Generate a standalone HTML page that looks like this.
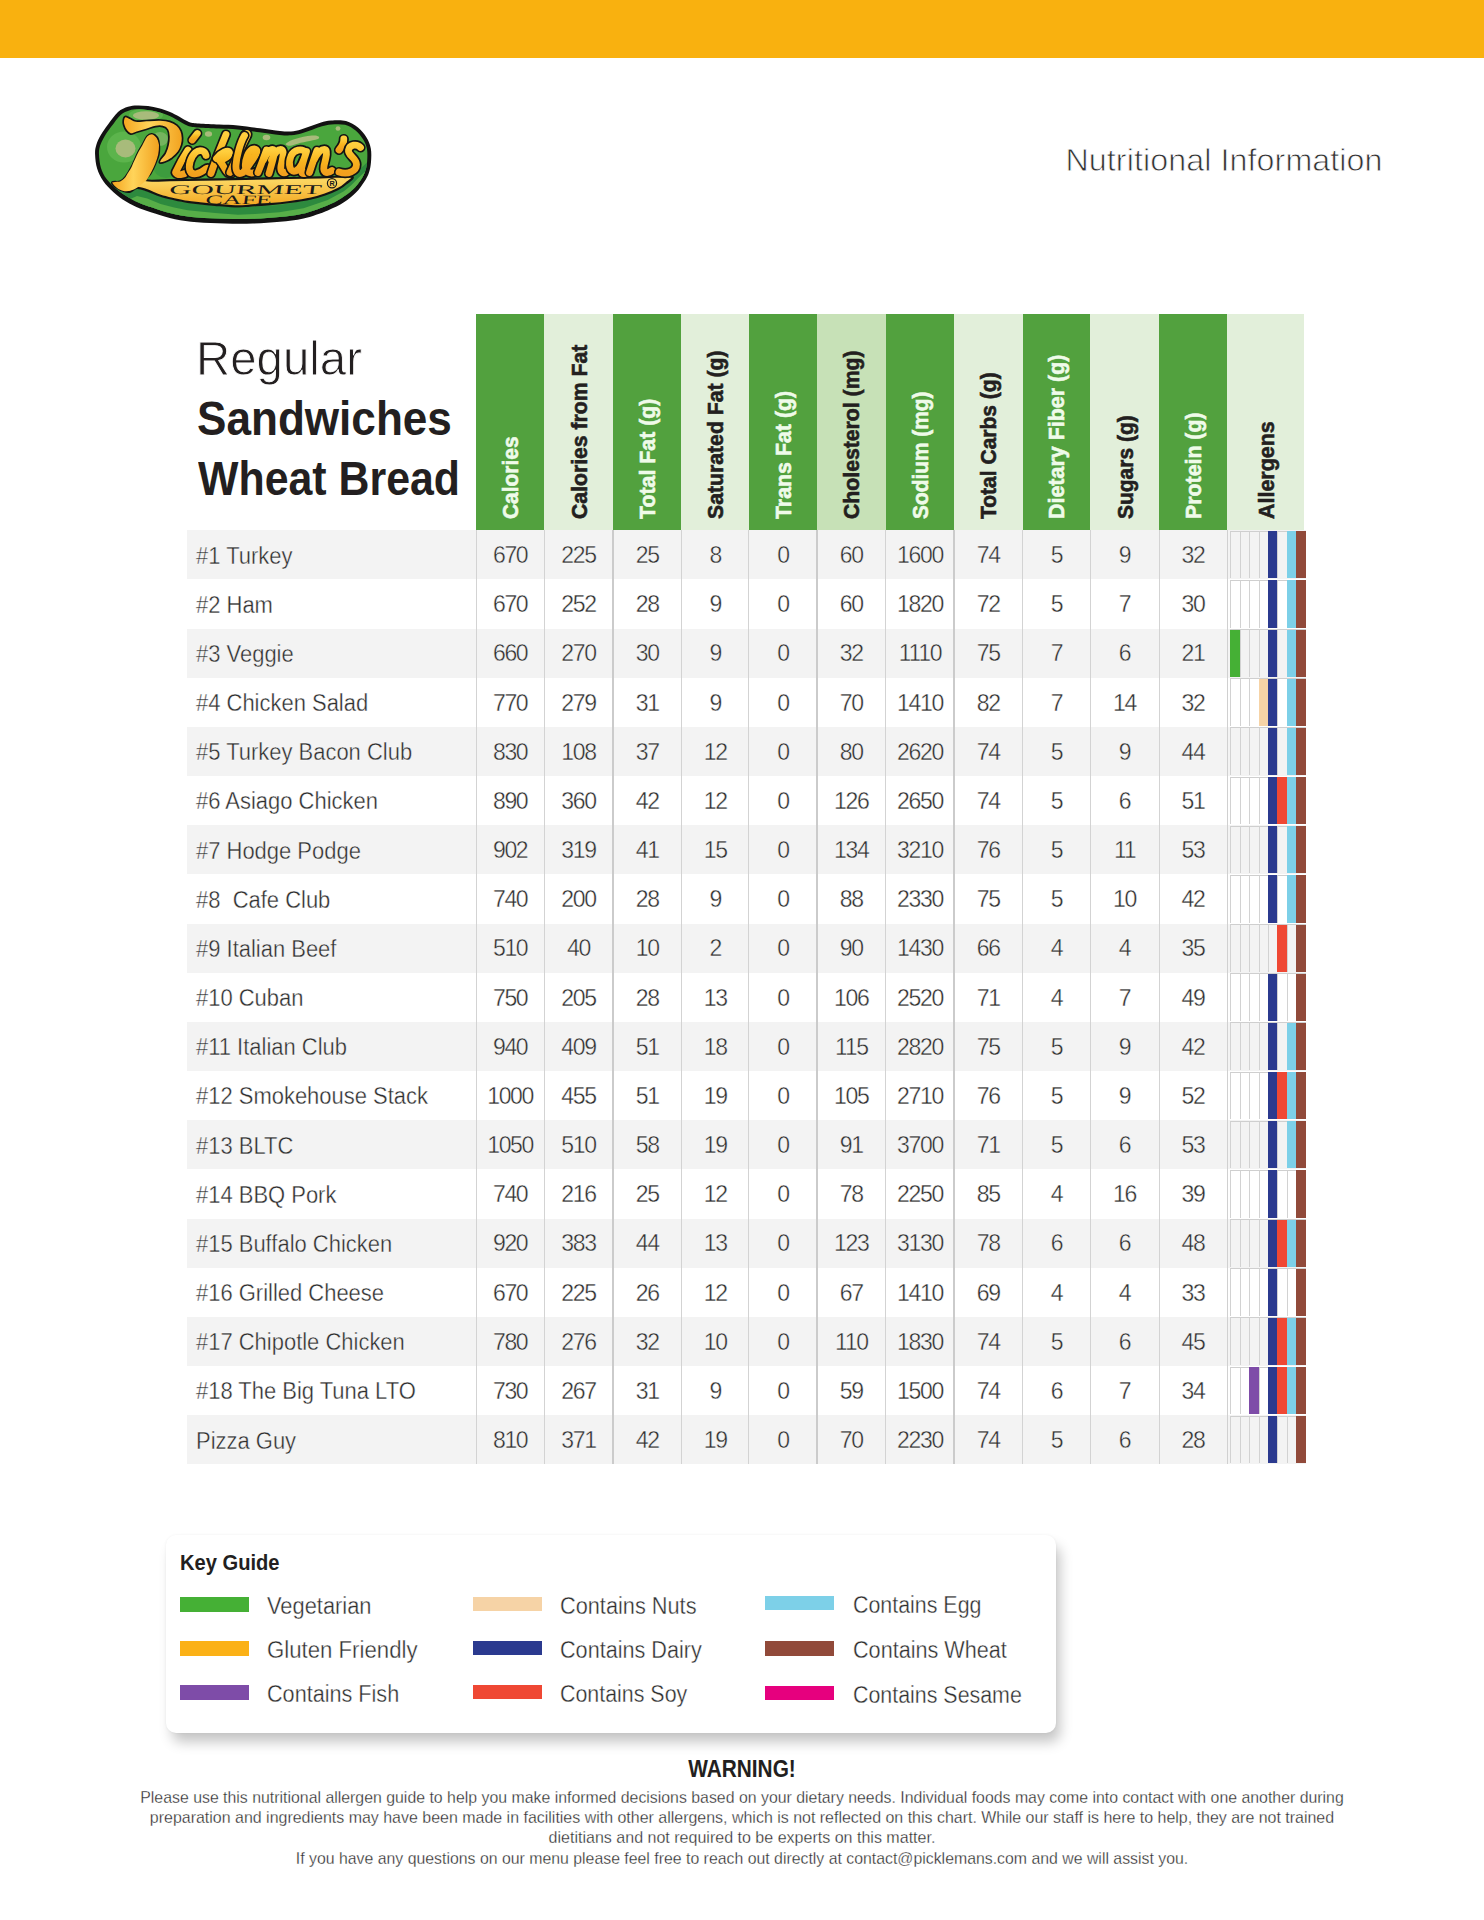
<!DOCTYPE html>
<html><head><meta charset="utf-8"><title>Pickleman's Nutritional Information</title>
<style>
*{box-sizing:border-box;margin:0;padding:0}
html,body{width:1484px;height:1920px;background:#fff;overflow:hidden}
body{position:relative;font-family:"Liberation Sans",sans-serif;color:#333}
.abs{position:absolute}
.topbar{position:absolute;left:0;top:0;width:1484px;height:58px;background:#f9b10f}
.ni{position:absolute;right:101.4px;top:137.9px;font-size:32.2px;color:#333;-webkit-text-stroke:0.8px #fff;letter-spacing:0.1px;white-space:nowrap;line-height:44px}
.title{position:absolute;left:197px;white-space:nowrap;color:#231f20;transform-origin:0 50%}
.hc{position:absolute;top:313.5px;height:216.5px}
.ht{position:absolute;white-space:nowrap;font-weight:700;font-size:22.6px;line-height:24px;transform-origin:0 0}
.row{position:absolute;left:187px;width:1119px}
.nm{position:absolute;left:196.3px;white-space:nowrap;font-size:23px;color:#2e2e2e;-webkit-text-stroke:0.35px #fff;transform:scaleX(0.955);transform-origin:0 50%}
.num{position:absolute;text-align:center;font-size:23px;letter-spacing:-1.3px;color:#2e2e2e;-webkit-text-stroke:0.35px #fff;white-space:nowrap}
.vl{position:absolute;width:1px;background:#d0d0d0}
.al{position:absolute}
.key{position:absolute;left:166px;top:1535px;width:889.5px;height:198px;background:#fff;border-radius:10px;box-shadow:5px 10px 13px -1px rgba(0,0,0,0.23),0 0 3px rgba(0,0,0,0.05)}
.sw{position:absolute;width:69px;height:14.5px}
.kl{position:absolute;font-size:23px;color:#2e2e2e;-webkit-text-stroke:0.35px #fff;white-space:nowrap;transform-origin:0 50%;line-height:26px}
.warn{position:absolute;left:0;width:1484px;text-align:center;color:#231f20;white-space:nowrap}
</style></head><body>
<div class="topbar"></div>
<svg class="abs" style="left:0;top:0" width="400" height="240" viewBox="0 0 400 240">
<defs>
<linearGradient id="gy" x1="0" y1="0" x2="0" y2="1"><stop offset="0" stop-color="#ffcf3e"/><stop offset="0.5" stop-color="#f8b41e"/><stop offset="1" stop-color="#f2a01e"/></linearGradient>
<linearGradient id="gb" x1="0" y1="0" x2="0" y2="1"><stop offset="0" stop-color="#f3a21d"/><stop offset="0.3" stop-color="#f9c53e"/><stop offset="0.65" stop-color="#fbd560"/><stop offset="1" stop-color="#f2a61f"/></linearGradient>
<linearGradient id="gs" x1="0" y1="0" x2="1" y2="0"><stop offset="0" stop-color="#f6a51f"/><stop offset="0.45" stop-color="#ffd45a"/><stop offset="1" stop-color="#f2a21f"/></linearGradient>
<clipPath id="cin"><path d="M99.0,154.5 C98.8,150.9 99.2,149.0 100.0,146.1 C100.9,143.2 102.3,140.1 104.2,136.9 C106.0,133.7 108.4,130.5 111.1,126.8 C113.9,123.2 117.6,117.6 120.6,114.9 C123.6,112.2 126.5,111.4 129.3,110.5 C132.0,109.5 134.1,109.4 137.2,109.3 C140.2,109.2 144.0,109.4 147.5,109.9 C151.0,110.3 154.5,111.1 158.0,112.1 C161.5,113.0 165.3,114.3 168.5,115.6 C171.7,116.9 174.0,118.3 177.2,120.0 C180.4,121.6 184.1,124.4 187.7,125.7 C191.3,126.9 193.5,127.0 198.7,127.5 C203.8,128.0 212.3,128.2 218.8,128.5 C225.3,128.8 230.9,128.8 237.6,129.4 C244.4,130.0 252.5,131.3 259.5,132.2 C266.5,133.1 274.3,134.4 279.6,134.9 C284.9,135.4 287.5,135.6 291.3,135.3 C295.0,135.0 298.5,134.2 302.0,133.3 C305.5,132.3 309.0,130.8 312.3,129.7 C315.6,128.5 318.9,127.1 322.0,126.3 C325.2,125.4 327.4,124.7 331.2,124.5 C335.1,124.2 341.0,123.8 345.0,124.8 C349.1,125.8 352.5,128.1 355.6,130.5 C358.6,133.0 361.3,136.4 363.2,139.5 C365.1,142.6 366.3,145.5 367.0,149.2 C367.6,152.9 367.4,158.1 367.1,161.7 C366.8,165.4 366.4,168.1 365.3,171.1 C364.3,174.2 362.9,176.9 360.8,180.0 C358.8,183.0 356.1,186.4 352.9,189.5 C349.6,192.5 345.8,195.5 341.3,198.2 C336.9,201.0 332.5,203.3 326.0,205.9 C319.5,208.5 310.1,212.0 302.4,213.8 C294.6,215.7 287.8,216.2 279.5,217.0 C271.3,217.9 261.9,218.5 252.8,218.8 C243.8,219.1 234.3,219.0 225.1,218.8 C215.9,218.6 205.6,218.2 197.4,217.5 C189.2,216.8 182.8,215.9 176.0,214.5 C169.1,213.1 162.1,210.6 156.4,208.9 C150.7,207.2 146.5,206.0 141.8,204.1 C137.2,202.1 132.7,199.9 128.5,197.4 C124.3,194.9 120.1,192.0 116.4,188.9 C112.8,185.8 109.0,182.3 106.4,178.8 C103.8,175.2 102.2,171.7 100.9,167.7 C99.7,163.6 99.1,158.0 99.0,154.5Z"/></clipPath>
</defs>
<path d="M95.1,154.6 C94.9,150.6 95.3,148.3 96.3,145.0 C97.2,141.7 98.8,138.4 100.8,135.0 C102.8,131.6 105.1,128.3 108.0,124.5 C110.9,120.7 114.7,115.0 118.0,112.0 C121.3,109.0 124.8,107.9 128.0,106.8 C131.2,105.7 133.7,105.5 137.0,105.4 C140.3,105.3 144.3,105.5 148.0,106.0 C151.7,106.5 155.3,107.3 159.0,108.3 C162.7,109.3 166.7,110.6 170.0,112.0 C173.3,113.4 175.8,114.8 179.0,116.5 C182.2,118.2 185.7,120.8 189.0,122.0 C192.3,123.2 194.0,123.2 199.0,123.6 C204.0,124.0 212.5,124.3 219.0,124.6 C225.5,124.9 231.2,124.9 238.0,125.5 C244.8,126.1 253.0,127.4 260.0,128.3 C267.0,129.2 274.8,130.5 280.0,131.0 C285.2,131.5 287.5,131.7 291.0,131.4 C294.5,131.2 297.7,130.4 301.0,129.5 C304.3,128.6 307.7,127.2 311.0,126.0 C314.3,124.8 317.7,123.4 321.0,122.5 C324.3,121.6 326.8,120.8 331.0,120.6 C335.2,120.3 341.5,119.8 346.0,121.0 C350.5,122.2 354.6,124.8 358.0,127.5 C361.4,130.2 364.4,134.0 366.5,137.5 C368.6,141.0 370.1,144.4 370.8,148.5 C371.6,152.6 371.3,158.0 371.0,162.0 C370.7,166.0 370.1,169.1 369.0,172.4 C367.9,175.8 366.3,178.7 364.1,182.1 C361.9,185.5 359.4,189.2 356.0,192.6 C352.6,196.0 348.6,199.3 343.9,202.3 C339.2,205.3 334.5,207.7 327.8,210.4 C321.1,213.1 311.5,216.6 303.5,218.5 C295.5,220.4 288.4,221.0 280.0,221.8 C271.6,222.7 262.2,223.3 253.0,223.6 C243.8,223.9 234.3,223.8 225.0,223.6 C215.7,223.4 205.3,223.0 197.0,222.3 C188.7,221.6 182.0,220.7 175.0,219.2 C168.0,217.7 160.8,215.3 155.0,213.5 C149.2,211.7 144.8,210.5 140.0,208.5 C135.2,206.5 130.4,204.2 126.0,201.5 C121.6,198.8 117.3,195.6 113.5,192.2 C109.7,188.8 105.9,184.9 103.2,181.0 C100.5,177.1 98.6,173.2 97.2,168.8 C95.8,164.4 95.2,158.6 95.1,154.6Z" fill="#121212"/>
<path d="M99.0,154.5 C98.8,150.9 99.2,149.0 100.0,146.1 C100.9,143.2 102.3,140.1 104.2,136.9 C106.0,133.7 108.4,130.5 111.1,126.8 C113.9,123.2 117.6,117.6 120.6,114.9 C123.6,112.2 126.5,111.4 129.3,110.5 C132.0,109.5 134.1,109.4 137.2,109.3 C140.2,109.2 144.0,109.4 147.5,109.9 C151.0,110.3 154.5,111.1 158.0,112.1 C161.5,113.0 165.3,114.3 168.5,115.6 C171.7,116.9 174.0,118.3 177.2,120.0 C180.4,121.6 184.1,124.4 187.7,125.7 C191.3,126.9 193.5,127.0 198.7,127.5 C203.8,128.0 212.3,128.2 218.8,128.5 C225.3,128.8 230.9,128.8 237.6,129.4 C244.4,130.0 252.5,131.3 259.5,132.2 C266.5,133.1 274.3,134.4 279.6,134.9 C284.9,135.4 287.5,135.6 291.3,135.3 C295.0,135.0 298.5,134.2 302.0,133.3 C305.5,132.3 309.0,130.8 312.3,129.7 C315.6,128.5 318.9,127.1 322.0,126.3 C325.2,125.4 327.4,124.7 331.2,124.5 C335.1,124.2 341.0,123.8 345.0,124.8 C349.1,125.8 352.5,128.1 355.6,130.5 C358.6,133.0 361.3,136.4 363.2,139.5 C365.1,142.6 366.3,145.5 367.0,149.2 C367.6,152.9 367.4,158.1 367.1,161.7 C366.8,165.4 366.4,168.1 365.3,171.1 C364.3,174.2 362.9,176.9 360.8,180.0 C358.8,183.0 356.1,186.4 352.9,189.5 C349.6,192.5 345.8,195.5 341.3,198.2 C336.9,201.0 332.5,203.3 326.0,205.9 C319.5,208.5 310.1,212.0 302.4,213.8 C294.6,215.7 287.8,216.2 279.5,217.0 C271.3,217.9 261.9,218.5 252.8,218.8 C243.8,219.1 234.3,219.0 225.1,218.8 C215.9,218.6 205.6,218.2 197.4,217.5 C189.2,216.8 182.8,215.9 176.0,214.5 C169.1,213.1 162.1,210.6 156.4,208.9 C150.7,207.2 146.5,206.0 141.8,204.1 C137.2,202.1 132.7,199.9 128.5,197.4 C124.3,194.9 120.1,192.0 116.4,188.9 C112.8,185.8 109.0,182.3 106.4,178.8 C103.8,175.2 102.2,171.7 100.9,167.7 C99.7,163.6 99.1,158.0 99.0,154.5Z" fill="#4aa63d"/>
<g clip-path="url(#cin)">
<path d="M92,168 C100,170 104,176 104,180.5 L112.0,184.4 118.0,188.5 123.6,191.0 130.3,191.6 137.0,188.6 147.2,191.2 160.6,196.6 174.1,200.2 187.6,202.9 200.0,204.3 215.0,205.8 238.0,207.4 255.0,206.6 279.3,205.0 303.5,200.9 327.8,192.8 343.9,183.9 351.5,177.6 358.0,171.0 L380,150 L380,240 L90,240 Z" fill="#2d8a3e"/>
<path d="M92,176 L104.0,187.8 112.0,191.7 118.0,195.8 123.6,198.3 130.3,198.9 137.0,195.9 147.2,198.5 160.6,203.9 174.1,207.5 187.6,210.2 200.0,211.6 215.0,213.1 238.0,214.7 255.0,213.9 279.3,212.3 303.5,208.2 327.8,200.1 343.9,191.2 351.5,184.9 358.0,178.3 L380,158 L380,240 L90,240 Z" fill="#57ae48"/>
<ellipse cx="166" cy="168" rx="12" ry="10" fill="#3d9c3e"/>
<ellipse cx="124" cy="147" rx="17" ry="15.5" fill="#5cb44c"/>
<ellipse cx="125.5" cy="148.5" rx="10" ry="9" fill="#a8bb7b"/>
<ellipse cx="146" cy="115" rx="17" ry="6.5" fill="#5cb44c"/>
<ellipse cx="146" cy="115.5" rx="13" ry="4.2" fill="#a8bb7b"/>
<ellipse cx="160" cy="139" rx="8" ry="7" fill="#7fb866" opacity="0.8"/>
</g>
<ellipse cx="208.5" cy="134" rx="3.6" ry="2.8" fill="#a8bb7b"/>
<ellipse cx="266.5" cy="137.5" rx="3.8" ry="2.8" fill="#a8bb7b"/>
<path d="M285.5,144 C290,139.5 300,137 312,135.5 C318,135 321,137 318,139 C312,141 302,142 295,144.5 C291,146 287,146.5 285.5,144 Z" fill="#a8bb7b"/>
<ellipse cx="338" cy="128.5" rx="2.4" ry="2.2" fill="#a8bb7b"/>
<path d="M152.0,134.2 C153.7,134.4 156.0,135.7 157.2,137.5 C158.4,139.3 158.8,142.2 159.0,145.0 C159.2,147.8 159.2,151.4 158.6,154.5 C158.0,157.6 156.7,160.3 155.3,163.5 C154.0,166.7 152.0,170.8 150.5,173.6 C149.0,176.4 143.2,179.2 146.5,180.3 C149.8,181.4 157.8,180.3 170.0,180.2 C182.2,180.0 203.3,179.7 220.0,179.4 C236.7,179.1 253.3,178.6 270.0,178.3 C286.7,178.0 306.4,177.7 320.0,177.4 C333.6,177.1 347.2,175.6 351.5,176.6 C355.8,177.6 348.2,181.4 346.0,183.5 C343.8,185.6 341.5,187.2 338.0,189.0 C334.5,190.8 329.5,192.9 325.0,194.5 C320.5,196.1 316.8,197.2 311.0,198.5 C305.2,199.8 296.8,201.1 290.0,202.0 C283.2,202.9 276.7,203.6 270.0,204.2 C263.3,204.8 255.3,205.2 250.0,205.6 C244.7,206.0 243.8,206.5 238.0,206.4 C232.2,206.3 221.3,205.3 215.0,204.8 C208.7,204.3 204.6,203.8 200.0,203.3 C195.4,202.8 191.9,202.6 187.6,201.9 C183.3,201.2 178.6,200.2 174.1,199.2 C169.6,198.2 165.1,197.3 160.6,195.8 C156.1,194.3 151.1,191.7 147.2,190.4 C143.3,189.1 139.8,187.6 137.0,187.8 C134.2,188.0 132.5,191.1 130.3,191.6 C128.1,192.1 125.8,191.7 123.6,191.0 C121.3,190.3 118.7,189.1 116.8,187.7 C114.9,186.3 111.5,183.4 112.1,182.4 C112.7,181.4 118.0,182.5 120.2,181.6 C122.5,180.7 123.7,179.5 125.6,177.0 C127.5,174.5 129.7,170.7 131.7,166.8 C133.7,162.9 135.9,157.0 137.7,153.4 C139.5,149.8 140.9,147.8 142.5,145.0 C144.1,142.2 145.6,138.3 147.2,136.5 C148.8,134.7 150.3,134.0 152.0,134.2Z" fill="url(#gb)" stroke="#141414" stroke-width="2.2" stroke-linejoin="round"/>
<path d="M152,134.2 C155,135.5 158,138 159,145 C159,152 158,157 155.3,163.5 C153,169 150,175 146.5,180.3 C142,184 139,186.5 137,187.8 C133,190.5 127,192 123.6,191 C119,190 114,186 112.1,182.4 C116,182 119,181.8 120.2,181.6 C123,179.5 125,178 125.6,177 C128,173 130,170 131.7,166.8 C134,161 136,157 137.7,153.4 C139.5,150 141,148 142.5,145 C144,142 145.5,138.5 147.2,136.5 C149,135 150.5,134.3 152,134.2 Z" fill="url(#gs)"/>
<path d="M125.1,116.5 C126.2,116.1 128.0,117.3 129.8,118.1 C131.6,118.8 133.2,120.6 135.9,121.0 C138.7,121.4 142.2,120.7 146.3,120.5 C150.4,120.3 156.6,119.8 160.5,120.0 C164.4,120.2 167.2,120.5 169.9,121.4 C172.7,122.3 175.1,123.6 177.0,125.2 C178.9,126.8 180.3,128.8 181.2,130.9 C182.1,133.0 182.5,135.7 182.6,138.0 C182.7,140.3 182.4,142.7 181.7,145.0 C181.0,147.3 180.0,149.9 178.4,152.1 C176.8,154.3 174.4,156.5 172.2,158.2 C170.0,159.8 167.3,161.2 165.2,162.0 C163.1,162.8 160.3,163.4 159.5,162.9 C158.7,162.4 159.6,160.8 160.5,159.2 C161.4,157.5 163.9,155.4 165.2,153.0 C166.4,150.6 167.4,147.8 168.0,145.0 C168.6,142.2 169.0,139.0 168.9,136.5 C168.8,134.0 168.5,131.6 167.5,129.9 C166.5,128.2 164.8,127.1 162.8,126.6 C160.8,126.0 158.4,126.1 155.7,126.6 C152.9,127.1 149.4,128.6 146.3,129.5 C143.2,130.4 139.5,131.5 136.9,132.3 C134.3,133.1 132.4,134.4 130.7,134.2 C129.0,134.0 127.7,132.4 126.5,130.9 C125.3,129.4 124.2,126.9 123.7,125.2 C123.2,123.5 123.0,122.0 123.2,120.5 C123.4,119.0 124.0,116.9 125.1,116.5Z" fill="url(#gs)" stroke="#141414" stroke-width="1.7" stroke-linejoin="round"/>
<g transform="translate(27.5,0) skewX(-8)"><text x="168.5" y="194.3" font-family="Liberation Serif" font-size="13.2" fill="#1a1a1a" textLength="152.5" lengthAdjust="spacingAndGlyphs">GOURMET</text></g>
<g transform="translate(28.7,0) skewX(-8)"><text x="205" y="204.1" font-family="Liberation Serif" font-size="12.8" fill="#1a1a1a" textLength="66.5" lengthAdjust="spacingAndGlyphs">CAFE</text></g>
<circle cx="332" cy="183.2" r="4.6" fill="none" stroke="#1a1a1a" stroke-width="1.2"/>
<text x="329.4" y="185.6" font-family="Liberation Sans" font-size="7.2" font-weight="700" fill="#1a1a1a">R</text>
<path d="M188,150 C184,156 179,165 175.5,172.5 C177.5,175.5 183,175.5 189.5,171" fill="none" stroke="#141414" stroke-width="10.2" stroke-linecap="round" stroke-linejoin="round"/><path d="M188,150 C184,156 179,165 175.5,172.5 C177.5,175.5 183,175.5 189.5,171" fill="none" stroke="url(#gy)" stroke-width="6.8" stroke-linecap="round" stroke-linejoin="round"/><path d="M192.3,140 L197.3,133.5" fill="none" stroke="#141414" stroke-width="10.2" stroke-linecap="round" stroke-linejoin="round"/><path d="M192.3,140 L197.3,133.5" fill="none" stroke="url(#gy)" stroke-width="6.8" stroke-linecap="round" stroke-linejoin="round"/><path d="M206,155.5 C205,150.5 199.5,149 195.5,152.5 C190.5,157 188,166 190,171 C192,175.5 199,174.5 205.5,169 C207.5,167.5 209.5,168 211.5,171" fill="none" stroke="#141414" stroke-width="10.2" stroke-linecap="round" stroke-linejoin="round"/><path d="M206,155.5 C205,150.5 199.5,149 195.5,152.5 C190.5,157 188,166 190,171 C192,175.5 199,174.5 205.5,169 C207.5,167.5 209.5,168 211.5,171" fill="none" stroke="url(#gy)" stroke-width="6.8" stroke-linecap="round" stroke-linejoin="round"/><path d="M226,134.5 C221,147 215,161 211,173.5" fill="none" stroke="#141414" stroke-width="10.2" stroke-linecap="round" stroke-linejoin="round"/><path d="M226,134.5 C221,147 215,161 211,173.5" fill="none" stroke="url(#gy)" stroke-width="6.8" stroke-linecap="round" stroke-linejoin="round"/><path d="M216.5,158.5 C221,152.5 228,149.5 229.5,152.5 C230.5,155.5 224,159.5 219.5,160.5 C223,164 224.5,170 228,173 C230,174 232,173.5 234,172" fill="none" stroke="#141414" stroke-width="10.2" stroke-linecap="round" stroke-linejoin="round"/><path d="M216.5,158.5 C221,152.5 228,149.5 229.5,152.5 C230.5,155.5 224,159.5 219.5,160.5 C223,164 224.5,170 228,173 C230,174 232,173.5 234,172" fill="none" stroke="url(#gy)" stroke-width="6.8" stroke-linecap="round" stroke-linejoin="round"/><path d="M230,172.5 C236,160 243,143 246.5,137 C248.5,133.5 247,132 244.5,135.5" fill="none" stroke="#141414" stroke-width="10.2" stroke-linecap="round" stroke-linejoin="round"/><path d="M230,172.5 C236,160 243,143 246.5,137 C248.5,133.5 247,132 244.5,135.5" fill="none" stroke="url(#gy)" stroke-width="6.8" stroke-linecap="round" stroke-linejoin="round"/><path d="M244.5,135.5 C240,143 236.5,157 236,165 C235.5,172.5 238.5,175 243,172.5 C247,168 252,161 256.5,153.5 C258,150 255.5,148 252,149.5 C248,152 245.5,159 245.3,165 C245.2,172 250,175.5 258,171" fill="none" stroke="#141414" stroke-width="10.2" stroke-linecap="round" stroke-linejoin="round"/><path d="M244.5,135.5 C240,143 236.5,157 236,165 C235.5,172.5 238.5,175 243,172.5 C247,168 252,161 256.5,153.5 C258,150 255.5,148 252,149.5 C248,152 245.5,159 245.3,165 C245.2,172 250,175.5 258,171" fill="none" stroke="url(#gy)" stroke-width="6.8" stroke-linecap="round" stroke-linejoin="round"/><path d="M258,172.5 C261,165 264,157 266.5,150 M263.5,160 C266,154 270,149 273,149.5 C276,150.5 273,160 269,173.5 M271.5,160 C274,154 278,149 281.5,149.5 C285,150.5 282,161 281,166 C280,172 283,175 288.5,170.5" fill="none" stroke="#141414" stroke-width="10.2" stroke-linecap="round" stroke-linejoin="round"/><path d="M258,172.5 C261,165 264,157 266.5,150 M263.5,160 C266,154 270,149 273,149.5 C276,150.5 273,160 269,173.5 M271.5,160 C274,154 278,149 281.5,149.5 C285,150.5 282,161 281,166 C280,172 283,175 288.5,170.5" fill="none" stroke="url(#gy)" stroke-width="6.8" stroke-linecap="round" stroke-linejoin="round"/><path d="M306,152.5 C302,148 294,149.5 291,156 C288,163 289.5,173 295.5,171 C300,169.5 304,160 306.5,151.5 C304,159 301,168 301.5,171.5 C302.5,175 306,174 310,170" fill="none" stroke="#141414" stroke-width="10.2" stroke-linecap="round" stroke-linejoin="round"/><path d="M306,152.5 C302,148 294,149.5 291,156 C288,163 289.5,173 295.5,171 C300,169.5 304,160 306.5,151.5 C304,159 301,168 301.5,171.5 C302.5,175 306,174 310,170" fill="none" stroke="url(#gy)" stroke-width="6.8" stroke-linecap="round" stroke-linejoin="round"/><path d="M309.5,172.5 C312,165 314.5,157 317,150.5 M314,160 C317,154 321,149 325,149.5 C328.5,150.5 325,161 324,166 C323,172 326,175 332,170.5" fill="none" stroke="#141414" stroke-width="10.2" stroke-linecap="round" stroke-linejoin="round"/><path d="M309.5,172.5 C312,165 314.5,157 317,150.5 M314,160 C317,154 321,149 325,149.5 C328.5,150.5 325,161 324,166 C323,172 326,175 332,170.5" fill="none" stroke="url(#gy)" stroke-width="6.8" stroke-linecap="round" stroke-linejoin="round"/><path d="M343.8,139 C344,142.5 342,146.5 339,150" fill="none" stroke="#141414" stroke-width="10.2" stroke-linecap="round" stroke-linejoin="round"/><path d="M343.8,139 C344,142.5 342,146.5 339,150" fill="none" stroke="url(#gy)" stroke-width="6.8" stroke-linecap="round" stroke-linejoin="round"/><path d="M360.5,147.5 C357,143.5 349.5,144.5 348.5,150 C347.5,155.5 356.5,158 356.5,164.5 C356.5,171 348,175 339,172" fill="none" stroke="#141414" stroke-width="10.2" stroke-linecap="round" stroke-linejoin="round"/><path d="M360.5,147.5 C357,143.5 349.5,144.5 348.5,150 C347.5,155.5 356.5,158 356.5,164.5 C356.5,171 348,175 339,172" fill="none" stroke="url(#gy)" stroke-width="6.8" stroke-linecap="round" stroke-linejoin="round"/>
</svg><div class="ni">Nutritional Information</div>
<div class="title" style="top:329.6px;left:196px;font-size:49px;line-height:56px;font-weight:400;transform:scaleX(0.967);color:#231f20;-webkit-text-stroke:0.9px #fff">Regular</div>
<div class="title" style="top:390px;font-size:49px;line-height:56px;font-weight:700;transform:scaleX(0.90)">Sandwiches</div>
<div class="title" style="top:451px;left:198px;font-size:48px;line-height:56px;font-weight:700;transform:scaleX(0.893)">Wheat Bread</div>
<div class="hc" style="left:476.20px;width:68.20px;background:#52a13e"></div>
<div class="hc" style="left:544.10px;width:69.10px;background:#e2efda"></div>
<div class="hc" style="left:612.90px;width:68.80px;background:#52a13e"></div>
<div class="hc" style="left:681.40px;width:68.10px;background:#e2efda"></div>
<div class="hc" style="left:749.20px;width:67.80px;background:#52a13e"></div>
<div class="hc" style="left:816.70px;width:69.60px;background:#c7e1b7"></div>
<div class="hc" style="left:886.00px;width:68.20px;background:#52a13e"></div>
<div class="hc" style="left:953.90px;width:69.00px;background:#e2efda"></div>
<div class="hc" style="left:1022.60px;width:67.90px;background:#52a13e"></div>
<div class="hc" style="left:1090.20px;width:69.00px;background:#e2efda"></div>
<div class="hc" style="left:1158.90px;width:68.70px;background:#52a13e"></div>
<div class="hc" style="left:1227.30px;width:76.80px;background:#e2efda"></div>
<div class="row" style="top:530.20px;height:49.17px;background:#f3f3f3"></div>
<div class="row" style="top:579.37px;height:49.17px;background:#ffffff"></div>
<div class="row" style="top:628.54px;height:49.17px;background:#f3f3f3"></div>
<div class="row" style="top:677.71px;height:49.17px;background:#ffffff"></div>
<div class="row" style="top:726.88px;height:49.17px;background:#f3f3f3"></div>
<div class="row" style="top:776.05px;height:49.17px;background:#ffffff"></div>
<div class="row" style="top:825.22px;height:49.17px;background:#f3f3f3"></div>
<div class="row" style="top:874.39px;height:49.17px;background:#ffffff"></div>
<div class="row" style="top:923.56px;height:49.17px;background:#f3f3f3"></div>
<div class="row" style="top:972.73px;height:49.17px;background:#ffffff"></div>
<div class="row" style="top:1021.90px;height:49.17px;background:#f3f3f3"></div>
<div class="row" style="top:1071.07px;height:49.17px;background:#ffffff"></div>
<div class="row" style="top:1120.24px;height:49.17px;background:#f3f3f3"></div>
<div class="row" style="top:1169.41px;height:49.17px;background:#ffffff"></div>
<div class="row" style="top:1218.58px;height:49.17px;background:#f3f3f3"></div>
<div class="row" style="top:1267.75px;height:49.17px;background:#ffffff"></div>
<div class="row" style="top:1316.92px;height:49.17px;background:#f3f3f3"></div>
<div class="row" style="top:1366.09px;height:49.17px;background:#ffffff"></div>
<div class="row" style="top:1415.26px;height:49.17px;background:#f3f3f3"></div>
<div class="vl" style="left:475.90px;top:530.20px;height:934.23px;width:1px;background:#d3d3d3"></div>
<div class="vl" style="left:543.90px;top:530.20px;height:934.23px;width:1px;background:#d3d3d3"></div>
<div class="vl" style="left:612.00px;top:530.20px;height:934.23px;width:2px;background:#cbcbcb"></div>
<div class="vl" style="left:681.00px;top:530.20px;height:934.23px;width:1px;background:#d3d3d3"></div>
<div class="vl" style="left:748.20px;top:530.20px;height:934.23px;width:1px;background:#d3d3d3"></div>
<div class="vl" style="left:816.00px;top:530.20px;height:934.23px;width:2px;background:#cbcbcb"></div>
<div class="vl" style="left:885.00px;top:530.20px;height:934.23px;width:1px;background:#d3d3d3"></div>
<div class="vl" style="left:953.00px;top:530.20px;height:934.23px;width:2px;background:#cbcbcb"></div>
<div class="vl" style="left:1021.90px;top:530.20px;height:934.23px;width:1px;background:#d3d3d3"></div>
<div class="vl" style="left:1090.00px;top:530.20px;height:934.23px;width:1px;background:#d3d3d3"></div>
<div class="vl" style="left:1158.80px;top:530.20px;height:934.23px;width:1px;background:#d3d3d3"></div>
<div class="vl" style="left:1226.90px;top:530.20px;height:934.23px;width:1px;background:#d3d3d3"></div>
<div class="ht" style="left:511.15px;top:518.6px;color:#effbe9;-webkit-text-stroke:0.6px #effbe9;transform:rotate(-90deg) scaleX(0.9261) translate(0,-50%)">Calories</div>
<div class="ht" style="left:579.50px;top:518.6px;color:#231f20;-webkit-text-stroke:0.6px #231f20;transform:rotate(-90deg) scaleX(0.9377) translate(0,-50%)">Calories from Fat</div>
<div class="ht" style="left:648.15px;top:518.6px;color:#effbe9;-webkit-text-stroke:0.6px #effbe9;transform:rotate(-90deg) scaleX(0.9435) translate(0,-50%)">Total Fat (g)</div>
<div class="ht" style="left:716.30px;top:518.6px;color:#231f20;-webkit-text-stroke:0.6px #231f20;transform:rotate(-90deg) scaleX(0.9391) translate(0,-50%)">Saturated Fat (g)</div>
<div class="ht" style="left:783.95px;top:518.6px;color:#effbe9;-webkit-text-stroke:0.6px #effbe9;transform:rotate(-90deg) scaleX(0.9452) translate(0,-50%)">Trans Fat (g)</div>
<div class="ht" style="left:852.35px;top:518.6px;color:#231f20;-webkit-text-stroke:0.6px #231f20;transform:rotate(-90deg) scaleX(0.9391) translate(0,-50%)">Cholesterol (mg)</div>
<div class="ht" style="left:920.95px;top:518.6px;color:#effbe9;-webkit-text-stroke:0.6px #effbe9;transform:rotate(-90deg) scaleX(0.9231) translate(0,-50%)">Sodium (mg)</div>
<div class="ht" style="left:989.25px;top:518.6px;color:#231f20;-webkit-text-stroke:0.6px #231f20;transform:rotate(-90deg) scaleX(0.9298) translate(0,-50%)">Total Carbs (g)</div>
<div class="ht" style="left:1057.40px;top:518.6px;color:#effbe9;-webkit-text-stroke:0.6px #effbe9;transform:rotate(-90deg) scaleX(0.9487) translate(0,-50%)">Dietary Fiber (g)</div>
<div class="ht" style="left:1125.55px;top:518.6px;color:#231f20;-webkit-text-stroke:0.6px #231f20;transform:rotate(-90deg) scaleX(0.928) translate(0,-50%)">Sugars (g)</div>
<div class="ht" style="left:1194.10px;top:518.6px;color:#effbe9;-webkit-text-stroke:0.6px #effbe9;transform:rotate(-90deg) scaleX(0.9437) translate(0,-50%)">Protein (g)</div>
<div class="ht" style="left:1266.70px;top:518.6px;color:#231f20;-webkit-text-stroke:0.6px #231f20;transform:rotate(-90deg) scaleX(0.949) translate(0,-50%)">Allergens</div>
<div class="nm" style="top:540.50px;line-height:30px">#1 Turkey</div>
<div class="num" style="left:476.20px;width:67.90px;top:540.10px;line-height:30px">670</div>
<div class="num" style="left:544.10px;width:68.80px;top:540.10px;line-height:30px">225</div>
<div class="num" style="left:612.90px;width:68.50px;top:540.10px;line-height:30px">25</div>
<div class="num" style="left:681.40px;width:67.80px;top:540.10px;line-height:30px">8</div>
<div class="num" style="left:749.20px;width:67.50px;top:540.10px;line-height:30px">0</div>
<div class="num" style="left:816.70px;width:69.30px;top:540.10px;line-height:30px">60</div>
<div class="num" style="left:886.00px;width:67.90px;top:540.10px;line-height:30px">1600</div>
<div class="num" style="left:953.90px;width:68.70px;top:540.10px;line-height:30px">74</div>
<div class="num" style="left:1022.60px;width:67.60px;top:540.10px;line-height:30px">5</div>
<div class="num" style="left:1090.20px;width:68.70px;top:540.10px;line-height:30px">9</div>
<div class="num" style="left:1158.90px;width:68.40px;top:540.10px;line-height:30px">32</div>
<div class="nm" style="top:589.67px;line-height:30px">#2 Ham</div>
<div class="num" style="left:476.20px;width:67.90px;top:589.27px;line-height:30px">670</div>
<div class="num" style="left:544.10px;width:68.80px;top:589.27px;line-height:30px">252</div>
<div class="num" style="left:612.90px;width:68.50px;top:589.27px;line-height:30px">28</div>
<div class="num" style="left:681.40px;width:67.80px;top:589.27px;line-height:30px">9</div>
<div class="num" style="left:749.20px;width:67.50px;top:589.27px;line-height:30px">0</div>
<div class="num" style="left:816.70px;width:69.30px;top:589.27px;line-height:30px">60</div>
<div class="num" style="left:886.00px;width:67.90px;top:589.27px;line-height:30px">1820</div>
<div class="num" style="left:953.90px;width:68.70px;top:589.27px;line-height:30px">72</div>
<div class="num" style="left:1022.60px;width:67.60px;top:589.27px;line-height:30px">5</div>
<div class="num" style="left:1090.20px;width:68.70px;top:589.27px;line-height:30px">7</div>
<div class="num" style="left:1158.90px;width:68.40px;top:589.27px;line-height:30px">30</div>
<div class="nm" style="top:638.84px;line-height:30px">#3 Veggie</div>
<div class="num" style="left:476.20px;width:67.90px;top:638.44px;line-height:30px">660</div>
<div class="num" style="left:544.10px;width:68.80px;top:638.44px;line-height:30px">270</div>
<div class="num" style="left:612.90px;width:68.50px;top:638.44px;line-height:30px">30</div>
<div class="num" style="left:681.40px;width:67.80px;top:638.44px;line-height:30px">9</div>
<div class="num" style="left:749.20px;width:67.50px;top:638.44px;line-height:30px">0</div>
<div class="num" style="left:816.70px;width:69.30px;top:638.44px;line-height:30px">32</div>
<div class="num" style="left:886.00px;width:67.90px;top:638.44px;line-height:30px">1110</div>
<div class="num" style="left:953.90px;width:68.70px;top:638.44px;line-height:30px">75</div>
<div class="num" style="left:1022.60px;width:67.60px;top:638.44px;line-height:30px">7</div>
<div class="num" style="left:1090.20px;width:68.70px;top:638.44px;line-height:30px">6</div>
<div class="num" style="left:1158.90px;width:68.40px;top:638.44px;line-height:30px">21</div>
<div class="nm" style="top:688.01px;line-height:30px">#4 Chicken Salad</div>
<div class="num" style="left:476.20px;width:67.90px;top:687.61px;line-height:30px">770</div>
<div class="num" style="left:544.10px;width:68.80px;top:687.61px;line-height:30px">279</div>
<div class="num" style="left:612.90px;width:68.50px;top:687.61px;line-height:30px">31</div>
<div class="num" style="left:681.40px;width:67.80px;top:687.61px;line-height:30px">9</div>
<div class="num" style="left:749.20px;width:67.50px;top:687.61px;line-height:30px">0</div>
<div class="num" style="left:816.70px;width:69.30px;top:687.61px;line-height:30px">70</div>
<div class="num" style="left:886.00px;width:67.90px;top:687.61px;line-height:30px">1410</div>
<div class="num" style="left:953.90px;width:68.70px;top:687.61px;line-height:30px">82</div>
<div class="num" style="left:1022.60px;width:67.60px;top:687.61px;line-height:30px">7</div>
<div class="num" style="left:1090.20px;width:68.70px;top:687.61px;line-height:30px">14</div>
<div class="num" style="left:1158.90px;width:68.40px;top:687.61px;line-height:30px">32</div>
<div class="nm" style="top:737.18px;line-height:30px">#5 Turkey Bacon Club</div>
<div class="num" style="left:476.20px;width:67.90px;top:736.78px;line-height:30px">830</div>
<div class="num" style="left:544.10px;width:68.80px;top:736.78px;line-height:30px">108</div>
<div class="num" style="left:612.90px;width:68.50px;top:736.78px;line-height:30px">37</div>
<div class="num" style="left:681.40px;width:67.80px;top:736.78px;line-height:30px">12</div>
<div class="num" style="left:749.20px;width:67.50px;top:736.78px;line-height:30px">0</div>
<div class="num" style="left:816.70px;width:69.30px;top:736.78px;line-height:30px">80</div>
<div class="num" style="left:886.00px;width:67.90px;top:736.78px;line-height:30px">2620</div>
<div class="num" style="left:953.90px;width:68.70px;top:736.78px;line-height:30px">74</div>
<div class="num" style="left:1022.60px;width:67.60px;top:736.78px;line-height:30px">5</div>
<div class="num" style="left:1090.20px;width:68.70px;top:736.78px;line-height:30px">9</div>
<div class="num" style="left:1158.90px;width:68.40px;top:736.78px;line-height:30px">44</div>
<div class="nm" style="top:786.35px;line-height:30px">#6 Asiago Chicken</div>
<div class="num" style="left:476.20px;width:67.90px;top:785.95px;line-height:30px">890</div>
<div class="num" style="left:544.10px;width:68.80px;top:785.95px;line-height:30px">360</div>
<div class="num" style="left:612.90px;width:68.50px;top:785.95px;line-height:30px">42</div>
<div class="num" style="left:681.40px;width:67.80px;top:785.95px;line-height:30px">12</div>
<div class="num" style="left:749.20px;width:67.50px;top:785.95px;line-height:30px">0</div>
<div class="num" style="left:816.70px;width:69.30px;top:785.95px;line-height:30px">126</div>
<div class="num" style="left:886.00px;width:67.90px;top:785.95px;line-height:30px">2650</div>
<div class="num" style="left:953.90px;width:68.70px;top:785.95px;line-height:30px">74</div>
<div class="num" style="left:1022.60px;width:67.60px;top:785.95px;line-height:30px">5</div>
<div class="num" style="left:1090.20px;width:68.70px;top:785.95px;line-height:30px">6</div>
<div class="num" style="left:1158.90px;width:68.40px;top:785.95px;line-height:30px">51</div>
<div class="nm" style="top:835.52px;line-height:30px">#7 Hodge Podge</div>
<div class="num" style="left:476.20px;width:67.90px;top:835.12px;line-height:30px">902</div>
<div class="num" style="left:544.10px;width:68.80px;top:835.12px;line-height:30px">319</div>
<div class="num" style="left:612.90px;width:68.50px;top:835.12px;line-height:30px">41</div>
<div class="num" style="left:681.40px;width:67.80px;top:835.12px;line-height:30px">15</div>
<div class="num" style="left:749.20px;width:67.50px;top:835.12px;line-height:30px">0</div>
<div class="num" style="left:816.70px;width:69.30px;top:835.12px;line-height:30px">134</div>
<div class="num" style="left:886.00px;width:67.90px;top:835.12px;line-height:30px">3210</div>
<div class="num" style="left:953.90px;width:68.70px;top:835.12px;line-height:30px">76</div>
<div class="num" style="left:1022.60px;width:67.60px;top:835.12px;line-height:30px">5</div>
<div class="num" style="left:1090.20px;width:68.70px;top:835.12px;line-height:30px">11</div>
<div class="num" style="left:1158.90px;width:68.40px;top:835.12px;line-height:30px">53</div>
<div class="nm" style="top:884.69px;line-height:30px">#8 &nbsp;Cafe Club</div>
<div class="num" style="left:476.20px;width:67.90px;top:884.29px;line-height:30px">740</div>
<div class="num" style="left:544.10px;width:68.80px;top:884.29px;line-height:30px">200</div>
<div class="num" style="left:612.90px;width:68.50px;top:884.29px;line-height:30px">28</div>
<div class="num" style="left:681.40px;width:67.80px;top:884.29px;line-height:30px">9</div>
<div class="num" style="left:749.20px;width:67.50px;top:884.29px;line-height:30px">0</div>
<div class="num" style="left:816.70px;width:69.30px;top:884.29px;line-height:30px">88</div>
<div class="num" style="left:886.00px;width:67.90px;top:884.29px;line-height:30px">2330</div>
<div class="num" style="left:953.90px;width:68.70px;top:884.29px;line-height:30px">75</div>
<div class="num" style="left:1022.60px;width:67.60px;top:884.29px;line-height:30px">5</div>
<div class="num" style="left:1090.20px;width:68.70px;top:884.29px;line-height:30px">10</div>
<div class="num" style="left:1158.90px;width:68.40px;top:884.29px;line-height:30px">42</div>
<div class="nm" style="top:933.86px;line-height:30px">#9 Italian Beef</div>
<div class="num" style="left:476.20px;width:67.90px;top:933.46px;line-height:30px">510</div>
<div class="num" style="left:544.10px;width:68.80px;top:933.46px;line-height:30px">40</div>
<div class="num" style="left:612.90px;width:68.50px;top:933.46px;line-height:30px">10</div>
<div class="num" style="left:681.40px;width:67.80px;top:933.46px;line-height:30px">2</div>
<div class="num" style="left:749.20px;width:67.50px;top:933.46px;line-height:30px">0</div>
<div class="num" style="left:816.70px;width:69.30px;top:933.46px;line-height:30px">90</div>
<div class="num" style="left:886.00px;width:67.90px;top:933.46px;line-height:30px">1430</div>
<div class="num" style="left:953.90px;width:68.70px;top:933.46px;line-height:30px">66</div>
<div class="num" style="left:1022.60px;width:67.60px;top:933.46px;line-height:30px">4</div>
<div class="num" style="left:1090.20px;width:68.70px;top:933.46px;line-height:30px">4</div>
<div class="num" style="left:1158.90px;width:68.40px;top:933.46px;line-height:30px">35</div>
<div class="nm" style="top:983.03px;line-height:30px">#10 Cuban</div>
<div class="num" style="left:476.20px;width:67.90px;top:982.63px;line-height:30px">750</div>
<div class="num" style="left:544.10px;width:68.80px;top:982.63px;line-height:30px">205</div>
<div class="num" style="left:612.90px;width:68.50px;top:982.63px;line-height:30px">28</div>
<div class="num" style="left:681.40px;width:67.80px;top:982.63px;line-height:30px">13</div>
<div class="num" style="left:749.20px;width:67.50px;top:982.63px;line-height:30px">0</div>
<div class="num" style="left:816.70px;width:69.30px;top:982.63px;line-height:30px">106</div>
<div class="num" style="left:886.00px;width:67.90px;top:982.63px;line-height:30px">2520</div>
<div class="num" style="left:953.90px;width:68.70px;top:982.63px;line-height:30px">71</div>
<div class="num" style="left:1022.60px;width:67.60px;top:982.63px;line-height:30px">4</div>
<div class="num" style="left:1090.20px;width:68.70px;top:982.63px;line-height:30px">7</div>
<div class="num" style="left:1158.90px;width:68.40px;top:982.63px;line-height:30px">49</div>
<div class="nm" style="top:1032.20px;line-height:30px">#11 Italian Club</div>
<div class="num" style="left:476.20px;width:67.90px;top:1031.80px;line-height:30px">940</div>
<div class="num" style="left:544.10px;width:68.80px;top:1031.80px;line-height:30px">409</div>
<div class="num" style="left:612.90px;width:68.50px;top:1031.80px;line-height:30px">51</div>
<div class="num" style="left:681.40px;width:67.80px;top:1031.80px;line-height:30px">18</div>
<div class="num" style="left:749.20px;width:67.50px;top:1031.80px;line-height:30px">0</div>
<div class="num" style="left:816.70px;width:69.30px;top:1031.80px;line-height:30px">115</div>
<div class="num" style="left:886.00px;width:67.90px;top:1031.80px;line-height:30px">2820</div>
<div class="num" style="left:953.90px;width:68.70px;top:1031.80px;line-height:30px">75</div>
<div class="num" style="left:1022.60px;width:67.60px;top:1031.80px;line-height:30px">5</div>
<div class="num" style="left:1090.20px;width:68.70px;top:1031.80px;line-height:30px">9</div>
<div class="num" style="left:1158.90px;width:68.40px;top:1031.80px;line-height:30px">42</div>
<div class="nm" style="top:1081.37px;line-height:30px">#12 Smokehouse Stack</div>
<div class="num" style="left:476.20px;width:67.90px;top:1080.97px;line-height:30px">1000</div>
<div class="num" style="left:544.10px;width:68.80px;top:1080.97px;line-height:30px">455</div>
<div class="num" style="left:612.90px;width:68.50px;top:1080.97px;line-height:30px">51</div>
<div class="num" style="left:681.40px;width:67.80px;top:1080.97px;line-height:30px">19</div>
<div class="num" style="left:749.20px;width:67.50px;top:1080.97px;line-height:30px">0</div>
<div class="num" style="left:816.70px;width:69.30px;top:1080.97px;line-height:30px">105</div>
<div class="num" style="left:886.00px;width:67.90px;top:1080.97px;line-height:30px">2710</div>
<div class="num" style="left:953.90px;width:68.70px;top:1080.97px;line-height:30px">76</div>
<div class="num" style="left:1022.60px;width:67.60px;top:1080.97px;line-height:30px">5</div>
<div class="num" style="left:1090.20px;width:68.70px;top:1080.97px;line-height:30px">9</div>
<div class="num" style="left:1158.90px;width:68.40px;top:1080.97px;line-height:30px">52</div>
<div class="nm" style="top:1130.54px;line-height:30px">#13 BLTC</div>
<div class="num" style="left:476.20px;width:67.90px;top:1130.14px;line-height:30px">1050</div>
<div class="num" style="left:544.10px;width:68.80px;top:1130.14px;line-height:30px">510</div>
<div class="num" style="left:612.90px;width:68.50px;top:1130.14px;line-height:30px">58</div>
<div class="num" style="left:681.40px;width:67.80px;top:1130.14px;line-height:30px">19</div>
<div class="num" style="left:749.20px;width:67.50px;top:1130.14px;line-height:30px">0</div>
<div class="num" style="left:816.70px;width:69.30px;top:1130.14px;line-height:30px">91</div>
<div class="num" style="left:886.00px;width:67.90px;top:1130.14px;line-height:30px">3700</div>
<div class="num" style="left:953.90px;width:68.70px;top:1130.14px;line-height:30px">71</div>
<div class="num" style="left:1022.60px;width:67.60px;top:1130.14px;line-height:30px">5</div>
<div class="num" style="left:1090.20px;width:68.70px;top:1130.14px;line-height:30px">6</div>
<div class="num" style="left:1158.90px;width:68.40px;top:1130.14px;line-height:30px">53</div>
<div class="nm" style="top:1179.71px;line-height:30px">#14 BBQ Pork</div>
<div class="num" style="left:476.20px;width:67.90px;top:1179.31px;line-height:30px">740</div>
<div class="num" style="left:544.10px;width:68.80px;top:1179.31px;line-height:30px">216</div>
<div class="num" style="left:612.90px;width:68.50px;top:1179.31px;line-height:30px">25</div>
<div class="num" style="left:681.40px;width:67.80px;top:1179.31px;line-height:30px">12</div>
<div class="num" style="left:749.20px;width:67.50px;top:1179.31px;line-height:30px">0</div>
<div class="num" style="left:816.70px;width:69.30px;top:1179.31px;line-height:30px">78</div>
<div class="num" style="left:886.00px;width:67.90px;top:1179.31px;line-height:30px">2250</div>
<div class="num" style="left:953.90px;width:68.70px;top:1179.31px;line-height:30px">85</div>
<div class="num" style="left:1022.60px;width:67.60px;top:1179.31px;line-height:30px">4</div>
<div class="num" style="left:1090.20px;width:68.70px;top:1179.31px;line-height:30px">16</div>
<div class="num" style="left:1158.90px;width:68.40px;top:1179.31px;line-height:30px">39</div>
<div class="nm" style="top:1228.88px;line-height:30px">#15 Buffalo Chicken</div>
<div class="num" style="left:476.20px;width:67.90px;top:1228.48px;line-height:30px">920</div>
<div class="num" style="left:544.10px;width:68.80px;top:1228.48px;line-height:30px">383</div>
<div class="num" style="left:612.90px;width:68.50px;top:1228.48px;line-height:30px">44</div>
<div class="num" style="left:681.40px;width:67.80px;top:1228.48px;line-height:30px">13</div>
<div class="num" style="left:749.20px;width:67.50px;top:1228.48px;line-height:30px">0</div>
<div class="num" style="left:816.70px;width:69.30px;top:1228.48px;line-height:30px">123</div>
<div class="num" style="left:886.00px;width:67.90px;top:1228.48px;line-height:30px">3130</div>
<div class="num" style="left:953.90px;width:68.70px;top:1228.48px;line-height:30px">78</div>
<div class="num" style="left:1022.60px;width:67.60px;top:1228.48px;line-height:30px">6</div>
<div class="num" style="left:1090.20px;width:68.70px;top:1228.48px;line-height:30px">6</div>
<div class="num" style="left:1158.90px;width:68.40px;top:1228.48px;line-height:30px">48</div>
<div class="nm" style="top:1278.05px;line-height:30px">#16 Grilled Cheese</div>
<div class="num" style="left:476.20px;width:67.90px;top:1277.65px;line-height:30px">670</div>
<div class="num" style="left:544.10px;width:68.80px;top:1277.65px;line-height:30px">225</div>
<div class="num" style="left:612.90px;width:68.50px;top:1277.65px;line-height:30px">26</div>
<div class="num" style="left:681.40px;width:67.80px;top:1277.65px;line-height:30px">12</div>
<div class="num" style="left:749.20px;width:67.50px;top:1277.65px;line-height:30px">0</div>
<div class="num" style="left:816.70px;width:69.30px;top:1277.65px;line-height:30px">67</div>
<div class="num" style="left:886.00px;width:67.90px;top:1277.65px;line-height:30px">1410</div>
<div class="num" style="left:953.90px;width:68.70px;top:1277.65px;line-height:30px">69</div>
<div class="num" style="left:1022.60px;width:67.60px;top:1277.65px;line-height:30px">4</div>
<div class="num" style="left:1090.20px;width:68.70px;top:1277.65px;line-height:30px">4</div>
<div class="num" style="left:1158.90px;width:68.40px;top:1277.65px;line-height:30px">33</div>
<div class="nm" style="top:1327.22px;line-height:30px">#17 Chipotle Chicken</div>
<div class="num" style="left:476.20px;width:67.90px;top:1326.82px;line-height:30px">780</div>
<div class="num" style="left:544.10px;width:68.80px;top:1326.82px;line-height:30px">276</div>
<div class="num" style="left:612.90px;width:68.50px;top:1326.82px;line-height:30px">32</div>
<div class="num" style="left:681.40px;width:67.80px;top:1326.82px;line-height:30px">10</div>
<div class="num" style="left:749.20px;width:67.50px;top:1326.82px;line-height:30px">0</div>
<div class="num" style="left:816.70px;width:69.30px;top:1326.82px;line-height:30px">110</div>
<div class="num" style="left:886.00px;width:67.90px;top:1326.82px;line-height:30px">1830</div>
<div class="num" style="left:953.90px;width:68.70px;top:1326.82px;line-height:30px">74</div>
<div class="num" style="left:1022.60px;width:67.60px;top:1326.82px;line-height:30px">5</div>
<div class="num" style="left:1090.20px;width:68.70px;top:1326.82px;line-height:30px">6</div>
<div class="num" style="left:1158.90px;width:68.40px;top:1326.82px;line-height:30px">45</div>
<div class="nm" style="top:1376.39px;line-height:30px">#18 The Big Tuna LTO</div>
<div class="num" style="left:476.20px;width:67.90px;top:1375.99px;line-height:30px">730</div>
<div class="num" style="left:544.10px;width:68.80px;top:1375.99px;line-height:30px">267</div>
<div class="num" style="left:612.90px;width:68.50px;top:1375.99px;line-height:30px">31</div>
<div class="num" style="left:681.40px;width:67.80px;top:1375.99px;line-height:30px">9</div>
<div class="num" style="left:749.20px;width:67.50px;top:1375.99px;line-height:30px">0</div>
<div class="num" style="left:816.70px;width:69.30px;top:1375.99px;line-height:30px">59</div>
<div class="num" style="left:886.00px;width:67.90px;top:1375.99px;line-height:30px">1500</div>
<div class="num" style="left:953.90px;width:68.70px;top:1375.99px;line-height:30px">74</div>
<div class="num" style="left:1022.60px;width:67.60px;top:1375.99px;line-height:30px">6</div>
<div class="num" style="left:1090.20px;width:68.70px;top:1375.99px;line-height:30px">7</div>
<div class="num" style="left:1158.90px;width:68.40px;top:1375.99px;line-height:30px">34</div>
<div class="nm" style="top:1425.56px;line-height:30px">Pizza Guy</div>
<div class="num" style="left:476.20px;width:67.90px;top:1425.16px;line-height:30px">810</div>
<div class="num" style="left:544.10px;width:68.80px;top:1425.16px;line-height:30px">371</div>
<div class="num" style="left:612.90px;width:68.50px;top:1425.16px;line-height:30px">42</div>
<div class="num" style="left:681.40px;width:67.80px;top:1425.16px;line-height:30px">19</div>
<div class="num" style="left:749.20px;width:67.50px;top:1425.16px;line-height:30px">0</div>
<div class="num" style="left:816.70px;width:69.30px;top:1425.16px;line-height:30px">70</div>
<div class="num" style="left:886.00px;width:67.90px;top:1425.16px;line-height:30px">2230</div>
<div class="num" style="left:953.90px;width:68.70px;top:1425.16px;line-height:30px">74</div>
<div class="num" style="left:1022.60px;width:67.60px;top:1425.16px;line-height:30px">5</div>
<div class="num" style="left:1090.20px;width:68.70px;top:1425.16px;line-height:30px">6</div>
<div class="num" style="left:1158.90px;width:68.40px;top:1425.16px;line-height:30px">28</div>
<div class="al" style="left:1230px;top:530.70px;width:10px;height:47.67px;border-left:1px solid #d2d2d2;border-top:1.5px solid #cfcfcf"></div><div class="al" style="left:1240px;top:530.70px;width:9px;height:47.67px;border-left:1px solid #d2d2d2;border-top:1.5px solid #cfcfcf"></div><div class="al" style="left:1249px;top:530.70px;width:10px;height:47.67px;border-left:1px solid #d2d2d2;border-top:1.5px solid #cfcfcf"></div><div class="al" style="left:1259px;top:530.70px;width:9px;height:47.67px;border-left:1px solid #d2d2d2;border-top:1.5px solid #cfcfcf"></div><div class="al" style="left:1268px;top:530.70px;width:9px;height:47.67px;border-left:1px solid #d2d2d2;border-top:1.5px solid #cfcfcf"></div><div class="al" style="left:1277px;top:530.70px;width:10px;height:47.67px;border-left:1px solid #d2d2d2;border-top:1.5px solid #cfcfcf"></div><div class="al" style="left:1287px;top:530.70px;width:9px;height:47.67px;border-left:1px solid #d2d2d2;border-top:1.5px solid #cfcfcf"></div><div class="al" style="left:1296px;top:530.70px;width:10px;height:47.67px;border-left:1px solid #d2d2d2;border-top:1.5px solid #cfcfcf"></div><div class="al" style="left:1268px;top:531.20px;width:9px;height:47.17px;background:#2b3a8f"></div><div class="al" style="left:1287px;top:531.20px;width:9px;height:47.17px;background:#7dd0e8"></div><div class="al" style="left:1296px;top:531.20px;width:10px;height:47.17px;background:#914a3a"></div>
<div class="al" style="left:1230px;top:579.87px;width:10px;height:47.67px;border-left:1px solid #d2d2d2;border-top:1.5px solid #cfcfcf"></div><div class="al" style="left:1240px;top:579.87px;width:9px;height:47.67px;border-left:1px solid #d2d2d2;border-top:1.5px solid #cfcfcf"></div><div class="al" style="left:1249px;top:579.87px;width:10px;height:47.67px;border-left:1px solid #d2d2d2;border-top:1.5px solid #cfcfcf"></div><div class="al" style="left:1259px;top:579.87px;width:9px;height:47.67px;border-left:1px solid #d2d2d2;border-top:1.5px solid #cfcfcf"></div><div class="al" style="left:1268px;top:579.87px;width:9px;height:47.67px;border-left:1px solid #d2d2d2;border-top:1.5px solid #cfcfcf"></div><div class="al" style="left:1277px;top:579.87px;width:10px;height:47.67px;border-left:1px solid #d2d2d2;border-top:1.5px solid #cfcfcf"></div><div class="al" style="left:1287px;top:579.87px;width:9px;height:47.67px;border-left:1px solid #d2d2d2;border-top:1.5px solid #cfcfcf"></div><div class="al" style="left:1296px;top:579.87px;width:10px;height:47.67px;border-left:1px solid #d2d2d2;border-top:1.5px solid #cfcfcf"></div><div class="al" style="left:1268px;top:580.37px;width:9px;height:47.17px;background:#2b3a8f"></div><div class="al" style="left:1287px;top:580.37px;width:9px;height:47.17px;background:#7dd0e8"></div><div class="al" style="left:1296px;top:580.37px;width:10px;height:47.17px;background:#914a3a"></div>
<div class="al" style="left:1230px;top:629.04px;width:10px;height:47.67px;border-left:1px solid #d2d2d2;border-top:1.5px solid #cfcfcf"></div><div class="al" style="left:1240px;top:629.04px;width:9px;height:47.67px;border-left:1px solid #d2d2d2;border-top:1.5px solid #cfcfcf"></div><div class="al" style="left:1249px;top:629.04px;width:10px;height:47.67px;border-left:1px solid #d2d2d2;border-top:1.5px solid #cfcfcf"></div><div class="al" style="left:1259px;top:629.04px;width:9px;height:47.67px;border-left:1px solid #d2d2d2;border-top:1.5px solid #cfcfcf"></div><div class="al" style="left:1268px;top:629.04px;width:9px;height:47.67px;border-left:1px solid #d2d2d2;border-top:1.5px solid #cfcfcf"></div><div class="al" style="left:1277px;top:629.04px;width:10px;height:47.67px;border-left:1px solid #d2d2d2;border-top:1.5px solid #cfcfcf"></div><div class="al" style="left:1287px;top:629.04px;width:9px;height:47.67px;border-left:1px solid #d2d2d2;border-top:1.5px solid #cfcfcf"></div><div class="al" style="left:1296px;top:629.04px;width:10px;height:47.67px;border-left:1px solid #d2d2d2;border-top:1.5px solid #cfcfcf"></div><div class="al" style="left:1230px;top:629.54px;width:10px;height:47.17px;background:#45b035"></div><div class="al" style="left:1268px;top:629.54px;width:9px;height:47.17px;background:#2b3a8f"></div><div class="al" style="left:1287px;top:629.54px;width:9px;height:47.17px;background:#7dd0e8"></div><div class="al" style="left:1296px;top:629.54px;width:10px;height:47.17px;background:#914a3a"></div>
<div class="al" style="left:1230px;top:678.21px;width:10px;height:47.67px;border-left:1px solid #d2d2d2;border-top:1.5px solid #cfcfcf"></div><div class="al" style="left:1240px;top:678.21px;width:9px;height:47.67px;border-left:1px solid #d2d2d2;border-top:1.5px solid #cfcfcf"></div><div class="al" style="left:1249px;top:678.21px;width:10px;height:47.67px;border-left:1px solid #d2d2d2;border-top:1.5px solid #cfcfcf"></div><div class="al" style="left:1259px;top:678.21px;width:9px;height:47.67px;border-left:1px solid #d2d2d2;border-top:1.5px solid #cfcfcf"></div><div class="al" style="left:1268px;top:678.21px;width:9px;height:47.67px;border-left:1px solid #d2d2d2;border-top:1.5px solid #cfcfcf"></div><div class="al" style="left:1277px;top:678.21px;width:10px;height:47.67px;border-left:1px solid #d2d2d2;border-top:1.5px solid #cfcfcf"></div><div class="al" style="left:1287px;top:678.21px;width:9px;height:47.67px;border-left:1px solid #d2d2d2;border-top:1.5px solid #cfcfcf"></div><div class="al" style="left:1296px;top:678.21px;width:10px;height:47.67px;border-left:1px solid #d2d2d2;border-top:1.5px solid #cfcfcf"></div><div class="al" style="left:1259px;top:678.71px;width:9px;height:47.17px;background:#f6d3a6"></div><div class="al" style="left:1268px;top:678.71px;width:9px;height:47.17px;background:#2b3a8f"></div><div class="al" style="left:1287px;top:678.71px;width:9px;height:47.17px;background:#7dd0e8"></div><div class="al" style="left:1296px;top:678.71px;width:10px;height:47.17px;background:#914a3a"></div>
<div class="al" style="left:1230px;top:727.38px;width:10px;height:47.67px;border-left:1px solid #d2d2d2;border-top:1.5px solid #cfcfcf"></div><div class="al" style="left:1240px;top:727.38px;width:9px;height:47.67px;border-left:1px solid #d2d2d2;border-top:1.5px solid #cfcfcf"></div><div class="al" style="left:1249px;top:727.38px;width:10px;height:47.67px;border-left:1px solid #d2d2d2;border-top:1.5px solid #cfcfcf"></div><div class="al" style="left:1259px;top:727.38px;width:9px;height:47.67px;border-left:1px solid #d2d2d2;border-top:1.5px solid #cfcfcf"></div><div class="al" style="left:1268px;top:727.38px;width:9px;height:47.67px;border-left:1px solid #d2d2d2;border-top:1.5px solid #cfcfcf"></div><div class="al" style="left:1277px;top:727.38px;width:10px;height:47.67px;border-left:1px solid #d2d2d2;border-top:1.5px solid #cfcfcf"></div><div class="al" style="left:1287px;top:727.38px;width:9px;height:47.67px;border-left:1px solid #d2d2d2;border-top:1.5px solid #cfcfcf"></div><div class="al" style="left:1296px;top:727.38px;width:10px;height:47.67px;border-left:1px solid #d2d2d2;border-top:1.5px solid #cfcfcf"></div><div class="al" style="left:1268px;top:727.88px;width:9px;height:47.17px;background:#2b3a8f"></div><div class="al" style="left:1287px;top:727.88px;width:9px;height:47.17px;background:#7dd0e8"></div><div class="al" style="left:1296px;top:727.88px;width:10px;height:47.17px;background:#914a3a"></div>
<div class="al" style="left:1230px;top:776.55px;width:10px;height:47.67px;border-left:1px solid #d2d2d2;border-top:1.5px solid #cfcfcf"></div><div class="al" style="left:1240px;top:776.55px;width:9px;height:47.67px;border-left:1px solid #d2d2d2;border-top:1.5px solid #cfcfcf"></div><div class="al" style="left:1249px;top:776.55px;width:10px;height:47.67px;border-left:1px solid #d2d2d2;border-top:1.5px solid #cfcfcf"></div><div class="al" style="left:1259px;top:776.55px;width:9px;height:47.67px;border-left:1px solid #d2d2d2;border-top:1.5px solid #cfcfcf"></div><div class="al" style="left:1268px;top:776.55px;width:9px;height:47.67px;border-left:1px solid #d2d2d2;border-top:1.5px solid #cfcfcf"></div><div class="al" style="left:1277px;top:776.55px;width:10px;height:47.67px;border-left:1px solid #d2d2d2;border-top:1.5px solid #cfcfcf"></div><div class="al" style="left:1287px;top:776.55px;width:9px;height:47.67px;border-left:1px solid #d2d2d2;border-top:1.5px solid #cfcfcf"></div><div class="al" style="left:1296px;top:776.55px;width:10px;height:47.67px;border-left:1px solid #d2d2d2;border-top:1.5px solid #cfcfcf"></div><div class="al" style="left:1268px;top:777.05px;width:9px;height:47.17px;background:#2b3a8f"></div><div class="al" style="left:1277px;top:777.05px;width:10px;height:47.17px;background:#ef4834"></div><div class="al" style="left:1287px;top:777.05px;width:9px;height:47.17px;background:#7dd0e8"></div><div class="al" style="left:1296px;top:777.05px;width:10px;height:47.17px;background:#914a3a"></div>
<div class="al" style="left:1230px;top:825.72px;width:10px;height:47.67px;border-left:1px solid #d2d2d2;border-top:1.5px solid #cfcfcf"></div><div class="al" style="left:1240px;top:825.72px;width:9px;height:47.67px;border-left:1px solid #d2d2d2;border-top:1.5px solid #cfcfcf"></div><div class="al" style="left:1249px;top:825.72px;width:10px;height:47.67px;border-left:1px solid #d2d2d2;border-top:1.5px solid #cfcfcf"></div><div class="al" style="left:1259px;top:825.72px;width:9px;height:47.67px;border-left:1px solid #d2d2d2;border-top:1.5px solid #cfcfcf"></div><div class="al" style="left:1268px;top:825.72px;width:9px;height:47.67px;border-left:1px solid #d2d2d2;border-top:1.5px solid #cfcfcf"></div><div class="al" style="left:1277px;top:825.72px;width:10px;height:47.67px;border-left:1px solid #d2d2d2;border-top:1.5px solid #cfcfcf"></div><div class="al" style="left:1287px;top:825.72px;width:9px;height:47.67px;border-left:1px solid #d2d2d2;border-top:1.5px solid #cfcfcf"></div><div class="al" style="left:1296px;top:825.72px;width:10px;height:47.67px;border-left:1px solid #d2d2d2;border-top:1.5px solid #cfcfcf"></div><div class="al" style="left:1268px;top:826.22px;width:9px;height:47.17px;background:#2b3a8f"></div><div class="al" style="left:1287px;top:826.22px;width:9px;height:47.17px;background:#7dd0e8"></div><div class="al" style="left:1296px;top:826.22px;width:10px;height:47.17px;background:#914a3a"></div>
<div class="al" style="left:1230px;top:874.89px;width:10px;height:47.67px;border-left:1px solid #d2d2d2;border-top:1.5px solid #cfcfcf"></div><div class="al" style="left:1240px;top:874.89px;width:9px;height:47.67px;border-left:1px solid #d2d2d2;border-top:1.5px solid #cfcfcf"></div><div class="al" style="left:1249px;top:874.89px;width:10px;height:47.67px;border-left:1px solid #d2d2d2;border-top:1.5px solid #cfcfcf"></div><div class="al" style="left:1259px;top:874.89px;width:9px;height:47.67px;border-left:1px solid #d2d2d2;border-top:1.5px solid #cfcfcf"></div><div class="al" style="left:1268px;top:874.89px;width:9px;height:47.67px;border-left:1px solid #d2d2d2;border-top:1.5px solid #cfcfcf"></div><div class="al" style="left:1277px;top:874.89px;width:10px;height:47.67px;border-left:1px solid #d2d2d2;border-top:1.5px solid #cfcfcf"></div><div class="al" style="left:1287px;top:874.89px;width:9px;height:47.67px;border-left:1px solid #d2d2d2;border-top:1.5px solid #cfcfcf"></div><div class="al" style="left:1296px;top:874.89px;width:10px;height:47.67px;border-left:1px solid #d2d2d2;border-top:1.5px solid #cfcfcf"></div><div class="al" style="left:1268px;top:875.39px;width:9px;height:47.17px;background:#2b3a8f"></div><div class="al" style="left:1287px;top:875.39px;width:9px;height:47.17px;background:#7dd0e8"></div><div class="al" style="left:1296px;top:875.39px;width:10px;height:47.17px;background:#914a3a"></div>
<div class="al" style="left:1230px;top:924.06px;width:10px;height:47.67px;border-left:1px solid #d2d2d2;border-top:1.5px solid #cfcfcf"></div><div class="al" style="left:1240px;top:924.06px;width:9px;height:47.67px;border-left:1px solid #d2d2d2;border-top:1.5px solid #cfcfcf"></div><div class="al" style="left:1249px;top:924.06px;width:10px;height:47.67px;border-left:1px solid #d2d2d2;border-top:1.5px solid #cfcfcf"></div><div class="al" style="left:1259px;top:924.06px;width:9px;height:47.67px;border-left:1px solid #d2d2d2;border-top:1.5px solid #cfcfcf"></div><div class="al" style="left:1268px;top:924.06px;width:9px;height:47.67px;border-left:1px solid #d2d2d2;border-top:1.5px solid #cfcfcf"></div><div class="al" style="left:1277px;top:924.06px;width:10px;height:47.67px;border-left:1px solid #d2d2d2;border-top:1.5px solid #cfcfcf"></div><div class="al" style="left:1287px;top:924.06px;width:9px;height:47.67px;border-left:1px solid #d2d2d2;border-top:1.5px solid #cfcfcf"></div><div class="al" style="left:1296px;top:924.06px;width:10px;height:47.67px;border-left:1px solid #d2d2d2;border-top:1.5px solid #cfcfcf"></div><div class="al" style="left:1277px;top:924.56px;width:10px;height:47.17px;background:#ef4834"></div><div class="al" style="left:1296px;top:924.56px;width:10px;height:47.17px;background:#914a3a"></div>
<div class="al" style="left:1230px;top:973.23px;width:10px;height:47.67px;border-left:1px solid #d2d2d2;border-top:1.5px solid #cfcfcf"></div><div class="al" style="left:1240px;top:973.23px;width:9px;height:47.67px;border-left:1px solid #d2d2d2;border-top:1.5px solid #cfcfcf"></div><div class="al" style="left:1249px;top:973.23px;width:10px;height:47.67px;border-left:1px solid #d2d2d2;border-top:1.5px solid #cfcfcf"></div><div class="al" style="left:1259px;top:973.23px;width:9px;height:47.67px;border-left:1px solid #d2d2d2;border-top:1.5px solid #cfcfcf"></div><div class="al" style="left:1268px;top:973.23px;width:9px;height:47.67px;border-left:1px solid #d2d2d2;border-top:1.5px solid #cfcfcf"></div><div class="al" style="left:1277px;top:973.23px;width:10px;height:47.67px;border-left:1px solid #d2d2d2;border-top:1.5px solid #cfcfcf"></div><div class="al" style="left:1287px;top:973.23px;width:9px;height:47.67px;border-left:1px solid #d2d2d2;border-top:1.5px solid #cfcfcf"></div><div class="al" style="left:1296px;top:973.23px;width:10px;height:47.67px;border-left:1px solid #d2d2d2;border-top:1.5px solid #cfcfcf"></div><div class="al" style="left:1268px;top:973.73px;width:9px;height:47.17px;background:#2b3a8f"></div><div class="al" style="left:1296px;top:973.73px;width:10px;height:47.17px;background:#914a3a"></div>
<div class="al" style="left:1230px;top:1022.40px;width:10px;height:47.67px;border-left:1px solid #d2d2d2;border-top:1.5px solid #cfcfcf"></div><div class="al" style="left:1240px;top:1022.40px;width:9px;height:47.67px;border-left:1px solid #d2d2d2;border-top:1.5px solid #cfcfcf"></div><div class="al" style="left:1249px;top:1022.40px;width:10px;height:47.67px;border-left:1px solid #d2d2d2;border-top:1.5px solid #cfcfcf"></div><div class="al" style="left:1259px;top:1022.40px;width:9px;height:47.67px;border-left:1px solid #d2d2d2;border-top:1.5px solid #cfcfcf"></div><div class="al" style="left:1268px;top:1022.40px;width:9px;height:47.67px;border-left:1px solid #d2d2d2;border-top:1.5px solid #cfcfcf"></div><div class="al" style="left:1277px;top:1022.40px;width:10px;height:47.67px;border-left:1px solid #d2d2d2;border-top:1.5px solid #cfcfcf"></div><div class="al" style="left:1287px;top:1022.40px;width:9px;height:47.67px;border-left:1px solid #d2d2d2;border-top:1.5px solid #cfcfcf"></div><div class="al" style="left:1296px;top:1022.40px;width:10px;height:47.67px;border-left:1px solid #d2d2d2;border-top:1.5px solid #cfcfcf"></div><div class="al" style="left:1268px;top:1022.90px;width:9px;height:47.17px;background:#2b3a8f"></div><div class="al" style="left:1287px;top:1022.90px;width:9px;height:47.17px;background:#7dd0e8"></div><div class="al" style="left:1296px;top:1022.90px;width:10px;height:47.17px;background:#914a3a"></div>
<div class="al" style="left:1230px;top:1071.57px;width:10px;height:47.67px;border-left:1px solid #d2d2d2;border-top:1.5px solid #cfcfcf"></div><div class="al" style="left:1240px;top:1071.57px;width:9px;height:47.67px;border-left:1px solid #d2d2d2;border-top:1.5px solid #cfcfcf"></div><div class="al" style="left:1249px;top:1071.57px;width:10px;height:47.67px;border-left:1px solid #d2d2d2;border-top:1.5px solid #cfcfcf"></div><div class="al" style="left:1259px;top:1071.57px;width:9px;height:47.67px;border-left:1px solid #d2d2d2;border-top:1.5px solid #cfcfcf"></div><div class="al" style="left:1268px;top:1071.57px;width:9px;height:47.67px;border-left:1px solid #d2d2d2;border-top:1.5px solid #cfcfcf"></div><div class="al" style="left:1277px;top:1071.57px;width:10px;height:47.67px;border-left:1px solid #d2d2d2;border-top:1.5px solid #cfcfcf"></div><div class="al" style="left:1287px;top:1071.57px;width:9px;height:47.67px;border-left:1px solid #d2d2d2;border-top:1.5px solid #cfcfcf"></div><div class="al" style="left:1296px;top:1071.57px;width:10px;height:47.67px;border-left:1px solid #d2d2d2;border-top:1.5px solid #cfcfcf"></div><div class="al" style="left:1268px;top:1072.07px;width:9px;height:47.17px;background:#2b3a8f"></div><div class="al" style="left:1277px;top:1072.07px;width:10px;height:47.17px;background:#ef4834"></div><div class="al" style="left:1287px;top:1072.07px;width:9px;height:47.17px;background:#7dd0e8"></div><div class="al" style="left:1296px;top:1072.07px;width:10px;height:47.17px;background:#914a3a"></div>
<div class="al" style="left:1230px;top:1120.74px;width:10px;height:47.67px;border-left:1px solid #d2d2d2;border-top:1.5px solid #cfcfcf"></div><div class="al" style="left:1240px;top:1120.74px;width:9px;height:47.67px;border-left:1px solid #d2d2d2;border-top:1.5px solid #cfcfcf"></div><div class="al" style="left:1249px;top:1120.74px;width:10px;height:47.67px;border-left:1px solid #d2d2d2;border-top:1.5px solid #cfcfcf"></div><div class="al" style="left:1259px;top:1120.74px;width:9px;height:47.67px;border-left:1px solid #d2d2d2;border-top:1.5px solid #cfcfcf"></div><div class="al" style="left:1268px;top:1120.74px;width:9px;height:47.67px;border-left:1px solid #d2d2d2;border-top:1.5px solid #cfcfcf"></div><div class="al" style="left:1277px;top:1120.74px;width:10px;height:47.67px;border-left:1px solid #d2d2d2;border-top:1.5px solid #cfcfcf"></div><div class="al" style="left:1287px;top:1120.74px;width:9px;height:47.67px;border-left:1px solid #d2d2d2;border-top:1.5px solid #cfcfcf"></div><div class="al" style="left:1296px;top:1120.74px;width:10px;height:47.67px;border-left:1px solid #d2d2d2;border-top:1.5px solid #cfcfcf"></div><div class="al" style="left:1268px;top:1121.24px;width:9px;height:47.17px;background:#2b3a8f"></div><div class="al" style="left:1287px;top:1121.24px;width:9px;height:47.17px;background:#7dd0e8"></div><div class="al" style="left:1296px;top:1121.24px;width:10px;height:47.17px;background:#914a3a"></div>
<div class="al" style="left:1230px;top:1169.91px;width:10px;height:47.67px;border-left:1px solid #d2d2d2;border-top:1.5px solid #cfcfcf"></div><div class="al" style="left:1240px;top:1169.91px;width:9px;height:47.67px;border-left:1px solid #d2d2d2;border-top:1.5px solid #cfcfcf"></div><div class="al" style="left:1249px;top:1169.91px;width:10px;height:47.67px;border-left:1px solid #d2d2d2;border-top:1.5px solid #cfcfcf"></div><div class="al" style="left:1259px;top:1169.91px;width:9px;height:47.67px;border-left:1px solid #d2d2d2;border-top:1.5px solid #cfcfcf"></div><div class="al" style="left:1268px;top:1169.91px;width:9px;height:47.67px;border-left:1px solid #d2d2d2;border-top:1.5px solid #cfcfcf"></div><div class="al" style="left:1277px;top:1169.91px;width:10px;height:47.67px;border-left:1px solid #d2d2d2;border-top:1.5px solid #cfcfcf"></div><div class="al" style="left:1287px;top:1169.91px;width:9px;height:47.67px;border-left:1px solid #d2d2d2;border-top:1.5px solid #cfcfcf"></div><div class="al" style="left:1296px;top:1169.91px;width:10px;height:47.67px;border-left:1px solid #d2d2d2;border-top:1.5px solid #cfcfcf"></div><div class="al" style="left:1268px;top:1170.41px;width:9px;height:47.17px;background:#2b3a8f"></div><div class="al" style="left:1296px;top:1170.41px;width:10px;height:47.17px;background:#914a3a"></div>
<div class="al" style="left:1230px;top:1219.08px;width:10px;height:47.67px;border-left:1px solid #d2d2d2;border-top:1.5px solid #cfcfcf"></div><div class="al" style="left:1240px;top:1219.08px;width:9px;height:47.67px;border-left:1px solid #d2d2d2;border-top:1.5px solid #cfcfcf"></div><div class="al" style="left:1249px;top:1219.08px;width:10px;height:47.67px;border-left:1px solid #d2d2d2;border-top:1.5px solid #cfcfcf"></div><div class="al" style="left:1259px;top:1219.08px;width:9px;height:47.67px;border-left:1px solid #d2d2d2;border-top:1.5px solid #cfcfcf"></div><div class="al" style="left:1268px;top:1219.08px;width:9px;height:47.67px;border-left:1px solid #d2d2d2;border-top:1.5px solid #cfcfcf"></div><div class="al" style="left:1277px;top:1219.08px;width:10px;height:47.67px;border-left:1px solid #d2d2d2;border-top:1.5px solid #cfcfcf"></div><div class="al" style="left:1287px;top:1219.08px;width:9px;height:47.67px;border-left:1px solid #d2d2d2;border-top:1.5px solid #cfcfcf"></div><div class="al" style="left:1296px;top:1219.08px;width:10px;height:47.67px;border-left:1px solid #d2d2d2;border-top:1.5px solid #cfcfcf"></div><div class="al" style="left:1268px;top:1219.58px;width:9px;height:47.17px;background:#2b3a8f"></div><div class="al" style="left:1277px;top:1219.58px;width:10px;height:47.17px;background:#ef4834"></div><div class="al" style="left:1287px;top:1219.58px;width:9px;height:47.17px;background:#7dd0e8"></div><div class="al" style="left:1296px;top:1219.58px;width:10px;height:47.17px;background:#914a3a"></div>
<div class="al" style="left:1230px;top:1268.25px;width:10px;height:47.67px;border-left:1px solid #d2d2d2;border-top:1.5px solid #cfcfcf"></div><div class="al" style="left:1240px;top:1268.25px;width:9px;height:47.67px;border-left:1px solid #d2d2d2;border-top:1.5px solid #cfcfcf"></div><div class="al" style="left:1249px;top:1268.25px;width:10px;height:47.67px;border-left:1px solid #d2d2d2;border-top:1.5px solid #cfcfcf"></div><div class="al" style="left:1259px;top:1268.25px;width:9px;height:47.67px;border-left:1px solid #d2d2d2;border-top:1.5px solid #cfcfcf"></div><div class="al" style="left:1268px;top:1268.25px;width:9px;height:47.67px;border-left:1px solid #d2d2d2;border-top:1.5px solid #cfcfcf"></div><div class="al" style="left:1277px;top:1268.25px;width:10px;height:47.67px;border-left:1px solid #d2d2d2;border-top:1.5px solid #cfcfcf"></div><div class="al" style="left:1287px;top:1268.25px;width:9px;height:47.67px;border-left:1px solid #d2d2d2;border-top:1.5px solid #cfcfcf"></div><div class="al" style="left:1296px;top:1268.25px;width:10px;height:47.67px;border-left:1px solid #d2d2d2;border-top:1.5px solid #cfcfcf"></div><div class="al" style="left:1268px;top:1268.75px;width:9px;height:47.17px;background:#2b3a8f"></div><div class="al" style="left:1296px;top:1268.75px;width:10px;height:47.17px;background:#914a3a"></div>
<div class="al" style="left:1230px;top:1317.42px;width:10px;height:47.67px;border-left:1px solid #d2d2d2;border-top:1.5px solid #cfcfcf"></div><div class="al" style="left:1240px;top:1317.42px;width:9px;height:47.67px;border-left:1px solid #d2d2d2;border-top:1.5px solid #cfcfcf"></div><div class="al" style="left:1249px;top:1317.42px;width:10px;height:47.67px;border-left:1px solid #d2d2d2;border-top:1.5px solid #cfcfcf"></div><div class="al" style="left:1259px;top:1317.42px;width:9px;height:47.67px;border-left:1px solid #d2d2d2;border-top:1.5px solid #cfcfcf"></div><div class="al" style="left:1268px;top:1317.42px;width:9px;height:47.67px;border-left:1px solid #d2d2d2;border-top:1.5px solid #cfcfcf"></div><div class="al" style="left:1277px;top:1317.42px;width:10px;height:47.67px;border-left:1px solid #d2d2d2;border-top:1.5px solid #cfcfcf"></div><div class="al" style="left:1287px;top:1317.42px;width:9px;height:47.67px;border-left:1px solid #d2d2d2;border-top:1.5px solid #cfcfcf"></div><div class="al" style="left:1296px;top:1317.42px;width:10px;height:47.67px;border-left:1px solid #d2d2d2;border-top:1.5px solid #cfcfcf"></div><div class="al" style="left:1268px;top:1317.92px;width:9px;height:47.17px;background:#2b3a8f"></div><div class="al" style="left:1277px;top:1317.92px;width:10px;height:47.17px;background:#ef4834"></div><div class="al" style="left:1287px;top:1317.92px;width:9px;height:47.17px;background:#7dd0e8"></div><div class="al" style="left:1296px;top:1317.92px;width:10px;height:47.17px;background:#914a3a"></div>
<div class="al" style="left:1230px;top:1366.59px;width:10px;height:47.67px;border-left:1px solid #d2d2d2;border-top:1.5px solid #cfcfcf"></div><div class="al" style="left:1240px;top:1366.59px;width:9px;height:47.67px;border-left:1px solid #d2d2d2;border-top:1.5px solid #cfcfcf"></div><div class="al" style="left:1249px;top:1366.59px;width:10px;height:47.67px;border-left:1px solid #d2d2d2;border-top:1.5px solid #cfcfcf"></div><div class="al" style="left:1259px;top:1366.59px;width:9px;height:47.67px;border-left:1px solid #d2d2d2;border-top:1.5px solid #cfcfcf"></div><div class="al" style="left:1268px;top:1366.59px;width:9px;height:47.67px;border-left:1px solid #d2d2d2;border-top:1.5px solid #cfcfcf"></div><div class="al" style="left:1277px;top:1366.59px;width:10px;height:47.67px;border-left:1px solid #d2d2d2;border-top:1.5px solid #cfcfcf"></div><div class="al" style="left:1287px;top:1366.59px;width:9px;height:47.67px;border-left:1px solid #d2d2d2;border-top:1.5px solid #cfcfcf"></div><div class="al" style="left:1296px;top:1366.59px;width:10px;height:47.67px;border-left:1px solid #d2d2d2;border-top:1.5px solid #cfcfcf"></div><div class="al" style="left:1249px;top:1367.09px;width:10px;height:47.17px;background:#7e4ca8"></div><div class="al" style="left:1268px;top:1367.09px;width:9px;height:47.17px;background:#2b3a8f"></div><div class="al" style="left:1277px;top:1367.09px;width:10px;height:47.17px;background:#ef4834"></div><div class="al" style="left:1287px;top:1367.09px;width:9px;height:47.17px;background:#7dd0e8"></div><div class="al" style="left:1296px;top:1367.09px;width:10px;height:47.17px;background:#914a3a"></div>
<div class="al" style="left:1230px;top:1415.76px;width:10px;height:47.67px;border-left:1px solid #d2d2d2;border-top:1.5px solid #cfcfcf"></div><div class="al" style="left:1240px;top:1415.76px;width:9px;height:47.67px;border-left:1px solid #d2d2d2;border-top:1.5px solid #cfcfcf"></div><div class="al" style="left:1249px;top:1415.76px;width:10px;height:47.67px;border-left:1px solid #d2d2d2;border-top:1.5px solid #cfcfcf"></div><div class="al" style="left:1259px;top:1415.76px;width:9px;height:47.67px;border-left:1px solid #d2d2d2;border-top:1.5px solid #cfcfcf"></div><div class="al" style="left:1268px;top:1415.76px;width:9px;height:47.67px;border-left:1px solid #d2d2d2;border-top:1.5px solid #cfcfcf"></div><div class="al" style="left:1277px;top:1415.76px;width:10px;height:47.67px;border-left:1px solid #d2d2d2;border-top:1.5px solid #cfcfcf"></div><div class="al" style="left:1287px;top:1415.76px;width:9px;height:47.67px;border-left:1px solid #d2d2d2;border-top:1.5px solid #cfcfcf"></div><div class="al" style="left:1296px;top:1415.76px;width:10px;height:47.67px;border-left:1px solid #d2d2d2;border-top:1.5px solid #cfcfcf"></div><div class="al" style="left:1268px;top:1416.26px;width:9px;height:47.17px;background:#2b3a8f"></div><div class="al" style="left:1296px;top:1416.26px;width:10px;height:47.17px;background:#914a3a"></div>
<div class="vl" style="left:1226.80px;top:530.20px;height:934.23px"></div>
<div class="key"></div>
<div class="abs" style="left:180px;top:1550px;font-size:22px;font-weight:700;color:#231f20;white-space:nowrap;transform:scaleX(0.915);transform-origin:0 50%;line-height:26px">Key Guide</div>
<div class="sw" style="left:180px;top:1597px;background:#45b035"></div><div class="kl" style="left:267.2px;top:1593.1px;transform:scaleX(0.95)">Vegetarian</div>
<div class="sw" style="left:180px;top:1641px;background:#fbb116"></div><div class="kl" style="left:267.2px;top:1637.1px;transform:scaleX(0.965)">Gluten Friendly</div>
<div class="sw" style="left:180px;top:1685px;background:#7e4ca8"></div><div class="kl" style="left:267.2px;top:1681.1px;transform:scaleX(0.94)">Contains Fish</div>
<div class="sw" style="left:473px;top:1596.5px;background:#f6d3a6"></div><div class="kl" style="left:560.3px;top:1592.6px;transform:scaleX(0.945)">Contains Nuts</div>
<div class="sw" style="left:473px;top:1640.5px;background:#2b3a8f"></div><div class="kl" style="left:560.3px;top:1636.6px;transform:scaleX(0.94)">Contains Dairy</div>
<div class="sw" style="left:473px;top:1684.5px;background:#ef4834"></div><div class="kl" style="left:560.3px;top:1680.6px;transform:scaleX(0.93)">Contains Soy</div>
<div class="sw" style="left:765px;top:1595.5px;background:#7dd0e8"></div><div class="kl" style="left:852.6px;top:1591.6px;transform:scaleX(0.93)">Contains Egg</div>
<div class="sw" style="left:765px;top:1641px;background:#914a3a"></div><div class="kl" style="left:852.6px;top:1637.1px;transform:scaleX(0.94)">Contains Wheat</div>
<div class="sw" style="left:765px;top:1685.5px;background:#e6007e"></div><div class="kl" style="left:852.6px;top:1681.6px;transform:scaleX(0.93)">Contains Sesame</div>
<div class="warn" style="top:1756px;font-size:23px;font-weight:700;line-height:26px;transform:scaleX(0.905)">WARNING!</div>
<div class="warn" style="top:1787.50px;font-size:17px;line-height:20px;transform:scaleX(0.933);color:#2a2a2a;-webkit-text-stroke:0.3px #fff">Please use this nutritional allergen guide to help you make informed decisions based on your dietary needs. Individual foods may come into contact with one another during</div>
<div class="warn" style="top:1807.95px;font-size:17px;line-height:20px;transform:scaleX(0.939);color:#2a2a2a;-webkit-text-stroke:0.3px #fff">preparation and ingredients may have been made in facilities with other allergens, which is not reflected on this chart. While our staff is here to help, they are not trained</div>
<div class="warn" style="top:1828.40px;font-size:17px;line-height:20px;transform:scaleX(0.943);color:#2a2a2a;-webkit-text-stroke:0.3px #fff">dietitians and not required to be experts on this matter.</div>
<div class="warn" style="top:1848.85px;font-size:17px;line-height:20px;transform:scaleX(0.932);color:#2a2a2a;-webkit-text-stroke:0.3px #fff">If you have any questions on our menu please feel free to reach out directly at contact@picklemans.com and we will assist you.</div>
</body></html>
